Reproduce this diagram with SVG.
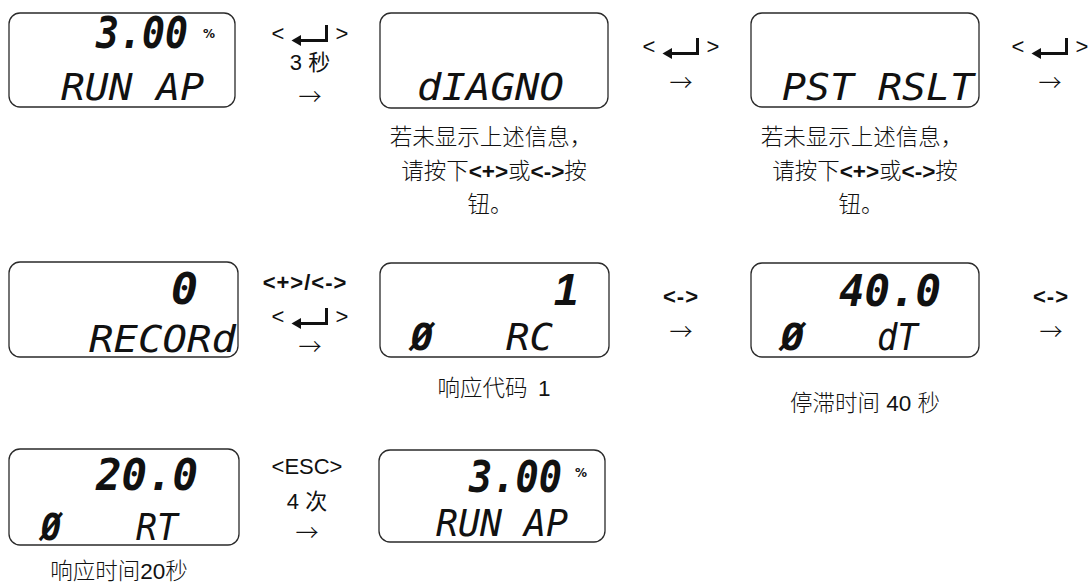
<svg xmlns="http://www.w3.org/2000/svg" width="1089" height="583" viewBox="0 0 1089 583">
<style>
.box{fill:#fff;stroke:#2a2a2a;stroke-width:1.3}
.dig{font-family:"DejaVu Sans Mono",monospace;font-weight:bold;font-style:italic;font-size:44px;fill:#111}
.one{font-family:"Liberation Sans",sans-serif;font-weight:bold;font-style:italic;font-size:44px;fill:#111;text-anchor:middle}
.lcd{font-family:"DejaVu Sans Mono",monospace;font-style:italic;font-size:38px;fill:#111}
.lcdb{font-family:"DejaVu Sans Mono",monospace;font-style:italic;font-weight:bold;font-size:38px;fill:#111}
.pct{font-family:"DejaVu Sans",sans-serif;font-weight:bold;font-size:12px;fill:#111}
.lbl{font-family:"Liberation Sans","Noto Sans CJK SC",sans-serif;font-size:22px;fill:#111;text-anchor:middle}
.key{font-family:"Liberation Sans",sans-serif;font-weight:bold;font-size:22px;fill:#111;text-anchor:middle}
.cap{font-family:"Liberation Sans","Noto Sans CJK SC",sans-serif;font-weight:300;font-size:22.5px;fill:#111;text-anchor:middle}
.capb{font-family:"Liberation Sans",sans-serif;font-weight:bold}
.arr{font-family:"Noto Sans CJK SC","DejaVu Sans",sans-serif;font-weight:300;font-size:23px;fill:#111;text-anchor:middle}
</style>
<defs>
<g id="enter">
<line x1="-11" y1="6.5" x2="18" y2="6.5" stroke="#111" stroke-width="3"/>
<line x1="16.5" y1="-9" x2="16.5" y2="8" stroke="#111" stroke-width="3"/>
<polygon points="-18.5,6.5 -9,1 -9,12" fill="#111"/>
<text class="lbl" x="-32" y="7">&lt;</text>
<text class="lbl" x="32" y="7">&gt;</text>
</g>
</defs>

<g id="node-run-ap-1">
<rect class="box" x="9" y="13" width="226" height="94" rx="11"/>
<text class="dig" x="96" y="48" textLength="92" lengthAdjust="spacingAndGlyphs">3.00</text>
<text class="pct" x="203" y="38">%</text>
<text class="lcd" x="61" y="100" textLength="143" lengthAdjust="spacingAndGlyphs">RUN AP</text>
</g>

<g id="node-diagno">
<rect class="box" x="380" y="13" width="228" height="95" rx="11"/>
<text class="lcd" x="417" y="100" textLength="147" lengthAdjust="spacingAndGlyphs">dIAGNO</text>
<text class="cap" x="491" y="145">若未显示上述信息，</text>
<text class="cap" x="494" y="179">请按下<tspan class="capb">&lt;+&gt;</tspan>或<tspan class="capb">&lt;-&gt;</tspan>按</text>
<text class="cap" x="490" y="212">钮。</text>
</g>

<g id="node-pst-rslt">
<rect class="box" x="751" y="13" width="228" height="94" rx="11"/>
<text class="lcd" x="782" y="100" textLength="192" lengthAdjust="spacingAndGlyphs">PST RSLT</text>
<text class="cap" x="862" y="145">若未显示上述信息，</text>
<text class="cap" x="865" y="179">请按下<tspan class="capb">&lt;+&gt;</tspan>或<tspan class="capb">&lt;-&gt;</tspan>按</text>
<text class="cap" x="861" y="212">钮。</text>
</g>

<g id="node-record">
<rect class="box" x="9" y="262" width="229" height="95" rx="11"/>
<text class="dig" x="171" y="304" textLength="27" lengthAdjust="spacingAndGlyphs">0</text>
<text class="lcd" x="89" y="352" textLength="147" lengthAdjust="spacingAndGlyphs">RECORd</text>
</g>

<g id="node-rc">
<rect class="box" x="380" y="263" width="229" height="94" rx="11"/>
<text class="one" x="566" y="305">1</text>
<text class="lcdb" x="411" y="350" textLength="22" lengthAdjust="spacingAndGlyphs">Ø</text>
<text class="lcd" x="506" y="350" textLength="47" lengthAdjust="spacingAndGlyphs">RC</text>
<text class="cap" x="494" y="396">响应代码 <tspan dx="4">1</tspan></text>
</g>

<g id="node-dt">
<rect class="box" x="751" y="263" width="228" height="94" rx="11"/>
<text class="dig" x="839" y="306" textLength="102" lengthAdjust="spacingAndGlyphs">40.0</text>
<text class="lcdb" x="781" y="350" textLength="23" lengthAdjust="spacingAndGlyphs">Ø</text>
<text class="lcd" x="877" y="350" textLength="41" lengthAdjust="spacingAndGlyphs">dT</text>
<text class="cap" x="865" y="411">停滞时间 40 秒</text>
</g>

<g id="node-rt">
<rect class="box" x="9" y="449" width="230" height="96" rx="11"/>
<text class="dig" x="96" y="490" textLength="102" lengthAdjust="spacingAndGlyphs">20.0</text>
<text class="lcdb" x="41" y="540" textLength="20" lengthAdjust="spacingAndGlyphs">Ø</text>
<text class="lcd" x="136" y="540" textLength="42" lengthAdjust="spacingAndGlyphs">RT</text>
<text class="cap" x="119" y="579">响应时间20秒</text>
</g>

<g id="node-run-ap-2">
<rect class="box" x="379" y="450" width="226" height="92" rx="11"/>
<text class="dig" x="469" y="492" textLength="93" lengthAdjust="spacingAndGlyphs">3.00</text>
<text class="pct" x="575" y="477">%</text>
<text class="lcd" x="436" y="536" textLength="132" lengthAdjust="spacingAndGlyphs">RUN AP</text>
</g>

<g id="connectors">
<g transform="translate(310,34)">
<use href="#enter"/>
<text class="lbl" x="0" y="36">3 秒</text>
<text class="arr" x="0" y="71">→</text>
</g>
<g transform="translate(681,47)">
<use href="#enter"/>
<text class="arr" x="0" y="44">→</text>
</g>
<g transform="translate(1050,47)">
<use href="#enter"/>
<text class="arr" x="0" y="44">→</text>
</g>
<g transform="translate(310,317)">
<text class="key" x="-5" y="-27" letter-spacing="1">&lt;+&gt;/&lt;-&gt;</text>
<use href="#enter"/>
<text class="arr" x="0" y="38">→</text>
</g>
<g transform="translate(681,297)">
<text class="key" x="0" y="7" letter-spacing="1">&lt;-&gt;</text>
<text class="arr" x="0" y="43">→</text>
</g>
<g transform="translate(1051,297)">
<text class="key" x="0" y="7" letter-spacing="1">&lt;-&gt;</text>
<text class="arr" x="0" y="43">→</text>
</g>
<g transform="translate(307,467)">
<text class="lbl" x="0" y="7">&lt;ESC&gt;</text>
<text class="lbl" x="0" y="42">4 次</text>
<text class="arr" x="0" y="74">→</text>
</g>
</g>
</svg>
